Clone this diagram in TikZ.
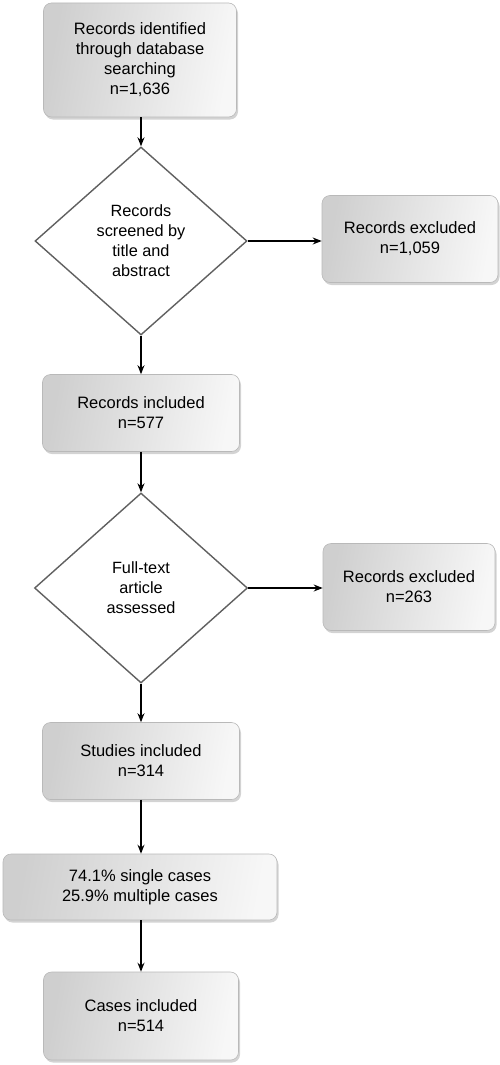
\documentclass[tikz,border=0pt]{standalone}
\usepackage{fontspec}
\setmainfont{Liberation Sans}
\usetikzlibrary{shapes.geometric,shadows,arrows.meta}
\begin{document}
\begin{tikzpicture}[x=1pt,y=1pt,
  gbox/.style={draw=gray!55, line width=0.6pt, rounded corners=8pt,
    left color=gray!38, right color=gray!6, shading angle=80,
    drop shadow={shadow xshift=1.5pt, shadow yshift=-2.5pt, opacity=0.35},
    align=center, inner sep=2pt, font=\fontsize{16.5}{20}\selectfont},
  dia/.style={diamond, draw=gray!75!black, line width=1.4pt, fill=white,
    align=center, inner sep=0pt, font=\fontsize{16.3}{20}\selectfont},
  arr/.style={-{Stealth[length=9pt,width=7pt]}, line width=1.3pt, black}]
\useasboundingbox (0,0) rectangle (499,-1065);
\node[gbox, minimum width=193pt, minimum height=114pt] (b1) at (140,-60)
  {Records identified\\through database\\searching\\n=1,636};
\node[dia, minimum width=212pt, minimum height=188pt] (d1) at (141,-241)
  {Records\\screened by\\title and\\abstract};
\node[gbox, minimum width=176pt, minimum height=87pt] (e1) at (410,-239)
  {Records excluded\\n=1,059};
\node[gbox, minimum width=197pt, minimum height=77pt] (b2) at (141,-413)
  {Records included\\n=577};
\node[dia, minimum width=213pt, minimum height=190pt] (d2) at (141,-588)
  {Full-text\\article\\assessed};
\node[gbox, minimum width=172pt, minimum height=87pt] (e2) at (409,-587)
  {Records excluded\\n=263};
\node[gbox, minimum width=197pt, minimum height=77pt] (b3) at (141,-761)
  {Studies included\\n=314};
\node[gbox, minimum width=274pt, minimum height=66pt] (b4) at (140,-887)
  {74.1\% single cases\\25.9\% multiple cases};
\node[gbox, minimum width=195pt, minimum height=88pt] (b5) at (141,-1016)
  {Cases included\\n=514};
\draw[arr] (b1.south -| d1.north) -- (d1.north);
\draw[arr] (d1.east) -- (d1.east -| e1.west);
\draw[arr] (d1.south) -- (d1.south |- b2.north);
\draw[arr] (b2.south -| d2.north) -- (d2.north);
\draw[arr] (d2.east) -- (d2.east -| e2.west);
\draw[arr] (d2.south) -- (d2.south |- b3.north);
\draw[arr] (b3.south) -- (b3.south |- b4.north);
\draw[arr] (b4.south -| b5.north) -- (b5.north);
\end{tikzpicture}
\end{document}
